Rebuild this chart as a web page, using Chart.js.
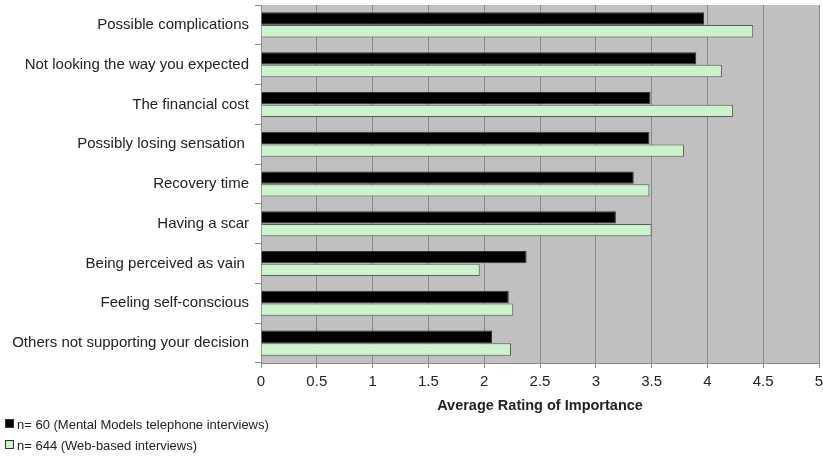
<!DOCTYPE html>
<html>
<head>
<meta charset="utf-8">
<script src="https://cdn.jsdelivr.net/npm/chart.js@4"></script>
<style>
  body { margin: 0; background: #fff; }
  #wrap { position: relative; width: 823px; height: 458px; }
  #legend { position: absolute; left: 5px; top: 417px; font: 13px "Liberation Sans", Arial, sans-serif; color: #222; }
  #legend div { height: 21px; line-height: 16px; }
  #legend span.box { display: inline-block; width: 7px; height: 7px; margin-right: 3px; border: 1px solid #333; vertical-align: 1px; }
</style>
</head>
<body>
<div id="wrap">
  <canvas id="graf" width="823" height="458"></canvas>
  <div id="legend"></div>
</div>
<script>
// categorias (de cima para baixo)
var fatores = ['Possible complications', 'Not looking the way you expected', 'The financial cost',
  'Possibly losing sensation ', 'Recovery time', 'Having a scar', 'Being perceived as vain ',
  'Feeling self-conscious', 'Others not supporting your decision'];
// medias
var telefone = [3.97, 3.90, 3.49, 3.48, 3.34, 3.18, 2.38, 2.22, 2.07];
var web = [4.41, 4.13, 4.23, 3.79, 3.48, 3.50, 1.96, 2.26, 2.24];
var nomes = ['n= 60 (Mental Models telephone interviews)', 'n= 644 (Web-based interviews)'];
var xTicks = [0, 0.5, 1, 1.5, 2, 2.5, 3, 3.5, 4, 4.5, 5];

var fonte = '"Liberation Sans", Arial, sans-serif';

// fundo cinza da area do grafico
var fundo = {
  id: 'fundoCinza',
  beforeDraw: function (chart) {
    var a = chart.chartArea;
    var ctx = chart.ctx;
    ctx.save();
    ctx.fillStyle = '#c0c0c0';
    ctx.fillRect(a.left, a.top, a.right - a.left, a.bottom - a.top);
    ctx.restore();
  }
};

var ctx = document.getElementById('graf');
var graf = new Chart(ctx, {
  type: 'bar',
  data: {
    labels: fatores,
    datasets: [
      {
        label: nomes[0],
        data: telefone,
        backgroundColor: '#000000',
        borderColor: '#333333',
        borderWidth: 1
      },
      {
        label: nomes[1],
        data: web,
        backgroundColor: '#ccf3cc',
        borderColor: '#5a5a5a',
        borderWidth: 1
      }
    ]
  },
  options: {
    indexAxis: 'y',
    responsive: false,
    animation: false,
    layout: { padding: { top: 5, right: 4, bottom: 43, left: 0 } },
    datasets: { bar: { categoryPercentage: 0.64, barPercentage: 0.97 } },
    plugins: {
      legend: { display: false },
      tooltip: { enabled: false }
    },
    scales: {
      x: {
        min: 0,
        max: 5,
        afterBuildTicks: function (s) { s.ticks = xTicks.map(function (v) { return { value: v }; }); },
        afterFit: function (s) { s.height = 52; s.paddingLeft = 0; s.paddingRight = 0; },
        grid: { color: '#8a8a8a', tickLength: 5, lineWidth: 1 },
        border: { color: '#8a8a8a' },
        ticks: {
          color: '#222', font: { family: fonte, size: 15 }, padding: 5, maxRotation: 0,
          callback: function (v) { return String(v); }
        },
        title: {
          display: true,
          text: 'Average Rating of Importance',
          color: '#222',
          font: { family: fonte, size: 14.5, weight: 'bold' },
          padding: { top: 4, bottom: 0 }
        }
      },
      y: {
        afterFit: function (s) { s.width = 261; s.paddingTop = 0; s.paddingBottom = 0; },
        grid: { offset: true, drawOnChartArea: false, color: '#8a8a8a', tickLength: 6 },
        border: { color: '#8a8a8a' },
        ticks: { color: '#222', font: { family: fonte, size: 15 }, padding: 6 }
      }
    }
  },
  plugins: [fundo]
});

// legenda embaixo, a esquerda
var cores = ['#000000', '#ccf3cc'];
var leg = document.getElementById('legend');
nomes.forEach(function (n, i) {
  var d = document.createElement('div');
  var b = document.createElement('span');
  b.className = 'box';
  b.style.background = cores[i];
  d.appendChild(b);
  d.appendChild(document.createTextNode(n));
  leg.appendChild(d);
});
</script>
</body>
</html>
